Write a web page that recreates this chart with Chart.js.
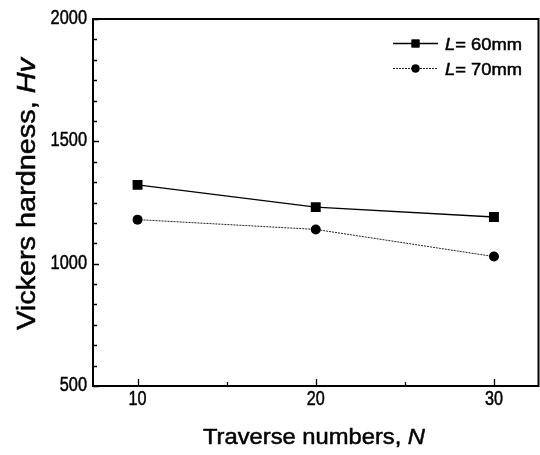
<!DOCTYPE html>
<html>
<head>
<meta charset="utf-8">
<script src="https://cdn.jsdelivr.net/npm/chart.js@4.4.1/dist/chart.umd.min.js"></script>
<style>
  html, body { margin: 0; padding: 0; background: #fff; }
  #wrap { width: 540px; height: 455px; }
</style>
</head>
<body>
<div id="wrap"><canvas id="hardnessChart" width="540" height="455"></canvas></div>
<script>
// data
const traverseNumbers = [10, 20, 30];
const hardnessL60 = [1322, 1231, 1191];
const hardnessL70 = [1180, 1140, 1029];
const xMajorTicks = [10, 20, 30];
const xMinorTicks = [15, 25];
const yMajorTicks = [500, 1000, 1500, 2000];
const legendValues = ['60mm', '70mm'];

const FONT = '"Liberation Sans", Arial, sans-serif';

function toPoints(xs, ys) {
  return xs.map((x, i) => ({ x: x, y: ys[i] }));
}

// draw a run of text pieces (some italic), squeezed/stretched to a width
function drawPieces(ctx, pieces, size, x, y, targetWidth, align) {
  let total = 0;
  pieces.forEach(p => {
    ctx.font = (p.italic ? 'italic ' : '') + size + 'px ' + FONT;
    p.w = ctx.measureText(p.text).width;
    total += p.w;
  });
  const sx = targetWidth ? targetWidth / total : 1;
  ctx.save();
  ctx.translate(x, y);
  ctx.scale(sx, 1);
  let cx = align === 'center' ? -total / 2 : (align === 'right' ? -total : 0);
  ctx.textAlign = 'left';
  ctx.textBaseline = 'alphabetic';
  ctx.lineWidth = 0.5;
  ctx.strokeStyle = '#000';
  pieces.forEach(p => {
    ctx.font = (p.italic ? 'italic ' : '') + size + 'px ' + FONT;
    ctx.fillText(p.text, cx, 0);
    ctx.strokeText(p.text, cx, 0);
    cx += p.w;
  });
  ctx.restore();
}

const framePlugin = {
  id: 'frame',
  afterDraw(chart) {
    const ctx = chart.ctx;
    const area = chart.chartArea;
    const xs = chart.scales.x;
    const ys = chart.scales.y;
    ctx.save();
    ctx.strokeStyle = '#000';
    ctx.fillStyle = '#000';

    // box
    ctx.lineWidth = 2;
    ctx.strokeRect(area.left, area.top, area.right - area.left, area.bottom - area.top);

    // inward ticks
    ctx.lineWidth = 1.3;
    ctx.beginPath();
    xMajorTicks.forEach(v => {
      const px = Math.round(xs.getPixelForValue(v)) + 0.5;
      ctx.moveTo(px, area.bottom); ctx.lineTo(px, area.bottom - 7);
    });
    xMinorTicks.forEach(v => {
      const px = Math.round(xs.getPixelForValue(v)) + 0.5;
      ctx.moveTo(px, area.bottom); ctx.lineTo(px, area.bottom - 4);
    });
    for (let v = 500; v <= 2000; v += 500 / 6) {
      const py = Math.round(ys.getPixelForValue(v)) + 0.5;
      const major = yMajorTicks.some(t => Math.abs(t - v) < 1);
      ctx.moveTo(area.left, py); ctx.lineTo(area.left + (major ? 6 : 4), py);
    }
    ctx.stroke();

    // tick labels
    yMajorTicks.forEach(v => {
      const py = ys.getPixelForValue(v);
      drawPieces(ctx, [{ text: String(v) }], 20, 87, py + 5, String(v).length * 9.1, 'right');
    });
    xMajorTicks.forEach(v => {
      const px = xs.getPixelForValue(v);
      drawPieces(ctx, [{ text: String(v) }], 20, px, 405, 18, 'center');
    });

    // axis titles
    drawPieces(ctx, [{ text: 'Traverse numbers, ' }, { text: 'N', italic: true }],
      22, 314, 444, 222, 'center');
    ctx.save();
    ctx.translate(35, 194);
    ctx.rotate(-Math.PI / 2);
    drawPieces(ctx, [{ text: 'Vickers hardness, ' }, { text: 'Hv', italic: true }],
      25, 0, 0, 272, 'center');
    ctx.restore();

    // legend
    const rows = [43.5, 68.5];
    chart.data.datasets.forEach((ds, i) => {
      const y = rows[i];
      ctx.save();
      ctx.strokeStyle = ds.borderColor;
      ctx.lineWidth = ds.borderWidth;
      ctx.setLineDash(ds.borderDash || []);
      ctx.beginPath();
      ctx.moveTo(393, y); ctx.lineTo(438, y);
      ctx.stroke();
      ctx.restore();
      Chart.helpers.drawPoint(ctx, {
        pointStyle: ds.pointStyle, radius: ds.pointRadius * 0.8, borderWidth: 0, rotation: 0
      }, 415.5, y);
      ctx.fillStyle = '#000';
      ctx.fill();
      drawPieces(ctx, [{ text: 'L', italic: true }, { text: '= ' + legendValues[i] }],
        17, 445, y + 6.5, 77, 'left');
    });
    ctx.restore();
  }
};

new Chart(document.getElementById('hardnessChart'), {
  type: 'line',
  data: {
    datasets: [{
      label: 'L= 60mm',
      data: toPoints(traverseNumbers, hardnessL60),
      borderColor: '#000',
      backgroundColor: '#000',
      borderWidth: 1.4,
      pointStyle: 'rect',
      pointRadius: 7,
      pointBorderWidth: 0,
      pointBackgroundColor: '#000'
    }, {
      label: 'L= 70mm',
      data: toPoints(traverseNumbers, hardnessL70),
      borderColor: '#222',
      backgroundColor: '#000',
      borderWidth: 1,
      borderDash: [2, 1],
      pointStyle: 'circle',
      pointRadius: 5,
      pointBorderWidth: 0,
      pointBackgroundColor: '#000'
    }]
  },
  options: {
    responsive: false,
    animation: false,
    devicePixelRatio: 1,
    layout: { autoPadding: false, padding: { left: 93, right: 1.5, top: 19, bottom: 69 } },
    scales: {
      x: { type: 'linear', min: 7.5, max: 32.5, display: false },
      y: { type: 'linear', min: 500, max: 2000, display: false }
    },
    plugins: {
      legend: { display: false },
      tooltip: { enabled: false }
    }
  },
  plugins: [framePlugin]
});
</script>
</body>
</html>
